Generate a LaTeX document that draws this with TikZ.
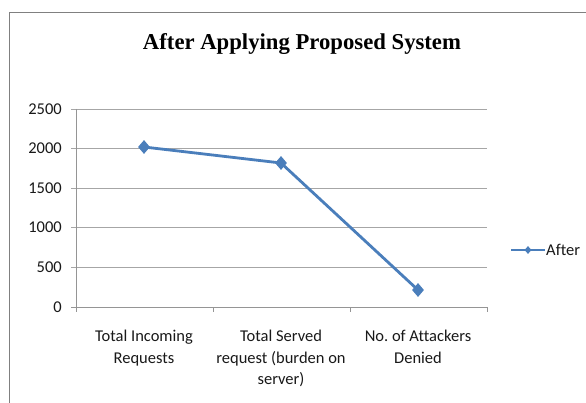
\documentclass[tikz,border=0pt]{standalone}
\usepackage{fontspec}
\usetikzlibrary{shapes.geometric}
\setmainfont[Ligatures=NoCommon]{Carlito}
\newfontfamily\titlefont{Liberation Serif}
\definecolor{serblue}{HTML}{4A7EBB}
\definecolor{gridgray}{HTML}{A6A6A6}
\frenchspacing
\begin{document}
\begin{tikzpicture}[x=1pt,y=-1pt,
  grid/.style={draw=gridgray,line width=0.9pt},
  axis/.style={draw=gridgray!90!black,line width=0.9pt},
  ylab/.style={anchor=east,font=\fontsize{16.5}{16.5}\selectfont,text=black!90,inner sep=0pt},
  xlab/.style={anchor=north,align=center,font=\fontsize{16.5}{21.5}\selectfont,text=black!90,inner sep=0pt},
  series/.style={draw=serblue,line width=2.8pt,line join=round},
  datapt/.style={diamond,fill=serblue,inner sep=0pt,minimum width=12pt,minimum height=14pt}]
\useasboundingbox (0,0) rectangle (586,403);
\fill[white] (0,0) rectangle (586,403);
% chart frame (left and top edges)
\draw[draw=gray,line width=1pt] (9,403) -- (9,13) -- (586,13);
% title
\node[font=\titlefont\bfseries\fontsize{22.7}{22.7}\selectfont] (title) at (302,44) {After Applying Proposed System};
% grid
\foreach \v/\y in {2500/109,2000/148,1500/188,1000/227,500/267}{
  \draw[grid] (71,\y) -- (487,\y);
  \node[ylab] at (62,\y) {\v};
}
\node[ylab] at (62,307) {0};
% axes
\draw[axis] (76,109) -- (76,312);
\draw[axis] (71,307) -- (487,307);
\foreach \x in {213,350,487}{\draw[axis] (\x,307) -- (\x,312);}
% categories
\node[xlab] (c1) at (144,330) {Total Incoming\\Requests};
\node[xlab] (c2) at (281,330) {Total Served\\request (burden on\\server)};
\node[xlab] (c3) at (418,330) {No. of Attackers\\Denied};
% series
\coordinate (p1) at (144,147);
\coordinate (p2) at (281,163);
\coordinate (p3) at (418,290);
\draw[series] (p1) -- (p2) -- (p3);
\node[datapt] at (p1) {};
\node[datapt] at (p2) {};
\node[datapt] at (p3) {};
% legend
\coordinate (l1) at (511,250);
\coordinate (l2) at (545,250);
\draw[draw=serblue,line width=2pt] (l1) -- (l2);
\node[diamond,fill=serblue,inner sep=0pt,minimum width=7pt,minimum height=8pt] (lm) at (528,250) {};
\node[anchor=west,inner sep=0pt,font=\fontsize{16.5}{16.5}\selectfont,text=black!90] (lt) at (546,250) {After};
\end{tikzpicture}
\end{document}
